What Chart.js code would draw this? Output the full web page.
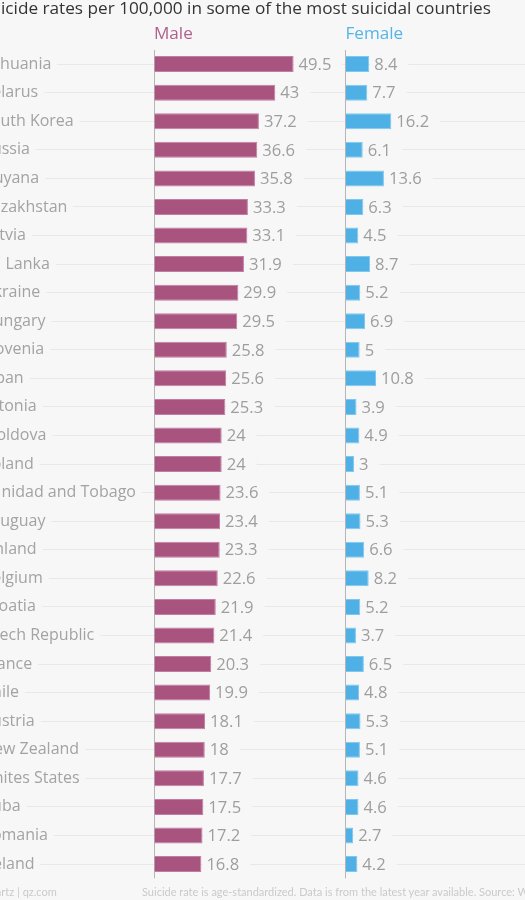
<!DOCTYPE html>
<html>
<head>
<meta charset="utf-8">
<script src="https://cdn.jsdelivr.net/npm/chart.js@4.4.1/dist/chart.umd.min.js"></script>
<style>
  html, body { margin: 0; padding: 0; background: #f7f7f7; overflow: hidden; width: 525px; height: 900px; }
  #wrap { position: absolute; left: -19px; top: 0; width: 544px; height: 900px; }
  .foot { position: absolute; top: 885px; font: 11px Lato, sans-serif; color: #cacaca; white-space: nowrap; }
</style>
</head>
<body>
<div id="wrap"><canvas id="chart" width="544" height="900"></canvas></div>
<div class="foot" style="left:-19px">Quartz | qz.com</div>
<div class="foot" style="left:142px">Suicide rate is age-standardized. Data is from the latest year available. Source: WHO</div>
<script>
const countries = [
  "Lithuania", "Belarus", "South Korea", "Russia", "Guyana", "Kazakhstan",
  "Latvia", "Sri Lanka", "Ukraine", "Hungary", "Slovenia", "Japan",
  "Estonia", "Moldova", "Poland", "Trinidad and Tobago", "Uruguay", "Finland",
  "Belgium", "Croatia", "Czech Republic", "France", "Chile", "Austria",
  "New Zealand", "Unites States", "Cuba", "Romania", "Ireland"
];
const male = [49.5, 43, 37.2, 36.6, 35.8, 33.3, 33.1, 31.9, 29.9, 29.5, 25.8, 25.6, 25.3, 24, 24,
  23.6, 23.4, 23.3, 22.6, 21.9, 21.4, 20.3, 19.9, 18.1, 18, 17.7, 17.5, 17.2, 16.8];
const female = [8.4, 7.7, 16.2, 6.1, 13.6, 6.3, 4.5, 8.7, 5.2, 6.9, 5, 10.8, 3.9, 4.9, 3,
  5.1, 5.3, 6.6, 8.2, 5.2, 3.7, 6.5, 4.8, 5.3, 5.1, 4.6, 4.6, 2.7, 4.2];

const BG = "#f7f7f7";
const FONT = "'Open Sans', sans-serif";

// value labels next to each bar, with a backdrop that breaks the grid line
const valueLabels = {
  id: "valueLabels",
  afterDatasetsDraw(chart) {
    const ctx = chart.ctx;
    ctx.save();
    ctx.font = "16.6px " + FONT;
    ctx.textBaseline = "middle";
    chart.data.datasets.forEach((ds, i) => {
      chart.getDatasetMeta(i).data.forEach((bar, j) => {
        const txt = String(ds.data[j]);
        const w = ctx.measureText(txt).width;
        const x = bar.x + 5;
        ctx.fillStyle = BG;
        ctx.fillRect(bar.x + 1, bar.y - 10, w + 15, 20);
        ctx.fillStyle = "#9e9e9e";
        ctx.fillText(txt, x, bar.y + 1);
      });
    });
    ctx.restore();
  }
};

const zeroTick = (scale) => { scale.ticks = [{ value: 0 }]; };
const colTitle = (text, color) => ({
  display: true,
  text: text,
  align: "start",
  color: color,
  font: { family: FONT, size: 17.1, lineHeight: 1 },
  padding: { top: 7.1, bottom: 6.7 },
});

new Chart(document.getElementById("chart"), {
  type: "bar",
  data: {
    labels: countries,
    datasets: [
      {
        label: "Male",
        data: male,
        xAxisID: "xm",
        grouped: false,
        backgroundColor: "#a9537f",
        borderColor: "#c27da3",
        borderWidth: 1,
        barPercentage: 0.56,
        categoryPercentage: 1,
      },
      {
        label: "Female",
        data: female,
        xAxisID: "xf",
        grouped: false,
        backgroundColor: "#4fb0e5",
        borderColor: "#80c7ee",
        borderWidth: 1,
        barPercentage: 0.56,
        categoryPercentage: 1,
      },
    ],
  },
  options: {
    indexAxis: "y",
    responsive: false,
    animation: { duration: 0 },
    layout: { padding: { left: 0, right: 0, top: 0, bottom: 21.7 } },
    scales: {
      y: {
        type: "category",
        position: "left",
        offset: true,
        afterFit: (scale) => { scale.width = 0; },
        grid: { offset: false, color: "#e8e8e8", drawTicks: false },
        border: { display: false },
        ticks: {
          mirror: true,
          crossAlign: "near",
          padding: 1,
          color: "#a3a3a3",
          font: { family: FONT, size: 16 },
          showLabelBackdrop: true,
          backdropColor: BG,
          backdropPadding: { top: 3, bottom: 3, left: 2, right: 6 },
        },
      },
      // empty column over the country names
      xd: {
        type: "linear",
        position: "top",
        stack: "cols",
        stackWeight: 173,
        weight: 2,
        grid: { display: false, drawTicks: false },
        border: { display: false },
        ticks: { display: false },
        title: colTitle("", BG),
      },
      xm: {
        type: "linear",
        position: "top",
        stack: "cols",
        stackWeight: 191.5,
        weight: 1,
        min: 0,
        max: 67.9,
        afterBuildTicks: zeroTick,
        grid: { color: "#b5b5b5", drawTicks: false },
        border: { display: false },
        ticks: { display: false },
        title: colTitle("Male", "#b0608e"),
      },
      xf: {
        type: "linear",
        position: "top",
        stack: "cols",
        stackWeight: 179.5,
        weight: 0,
        min: 0,
        max: 63.5,
        afterBuildTicks: zeroTick,
        grid: { color: "#b5b5b5", drawTicks: false },
        border: { display: false },
        ticks: { display: false },
        title: colTitle("Female", "#55b4e8"),
      },
    },
    plugins: {
      legend: { display: false },
      tooltip: { enabled: false },
      title: {
        display: true,
        text: "Suicide rates per 100,000 in some of the most suicidal countries",
        align: "start",
        color: "#333333",
        font: { family: FONT, size: 17.2, weight: "normal", lineHeight: 1.1 },
        padding: { top: 0, bottom: 0 },
      },
    },
  },
  plugins: [valueLabels],
});
</script>
</body>
</html>
